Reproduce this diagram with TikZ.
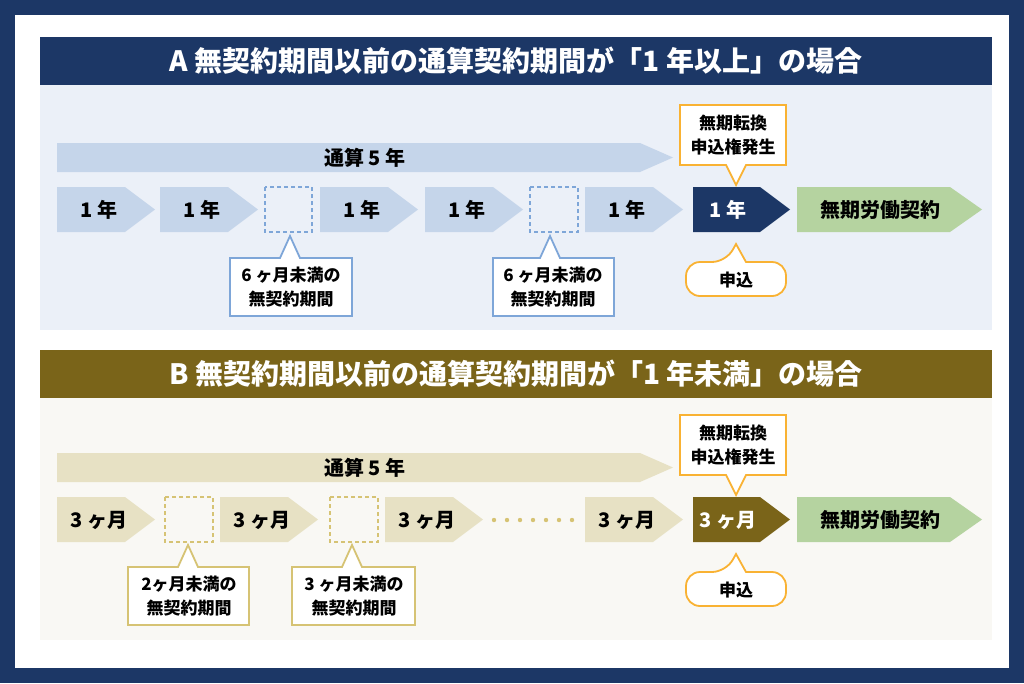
\documentclass[tikz,border=0pt]{standalone}
\usepackage{fontspec}
\setmainfont{Noto Sans CJK JP}
\definecolor{navy}{HTML}{1C3766}
\definecolor{olive}{HTML}{7A6419}
\definecolor{bgA}{HTML}{EBF0F8}
\definecolor{bgB}{HTML}{F9F8F4}
\definecolor{ltA}{HTML}{C5D5EA}
\definecolor{ltB}{HTML}{E7E1C4}
\definecolor{dashA}{HTML}{7EA6D8}
\definecolor{dashB}{HTML}{D6C374}
\definecolor{grn}{HTML}{B5D3A0}
\definecolor{org}{HTML}{F9B233}
\newcommand{\chev}[6]{\fill[#6] (#1,#4) -- (#3,#4) -- (#2,{(#4+#5)/2}) -- (#3,#5) -- (#1,#5) -- cycle;}
\tikzset{t/.style={font=\bfseries\fontsize{20}{22}\selectfont, text=black, inner sep=0pt},
 ct/.style={font=\bfseries\fontsize{17}{24}\selectfont, align=center, inner sep=0pt},
 hd/.style={font=\bfseries\fontsize{28}{30}\selectfont, text=white, inner sep=0pt}}
\newcommand{\callout}[8]{%
 \draw[#7, line width=1.8pt, fill=white] (#1,#2) -- ({#5-10},#2) -- (#5,#6) -- ({#5+10},#2) -- (#3,#2) -- (#3,#4) -- (#1,#4) -- cycle;}
\newcommand{\calloutD}[8]{%
 \draw[#7, line width=1.8pt, fill=white] (#1,#2) -- (#3,#2) -- (#3,#4) -- ({#5+10},#4) -- (#5,#6) -- ({#5-10},#4) -- (#1,#4) -- cycle;}
\begin{document}
\begin{tikzpicture}[x=1pt,y=-1pt]
\fill[navy] (0,0) rectangle (1024,683);
\fill[white] (15,15) rectangle (1009,668);
% ---------- A
\fill[navy] (40,37) rectangle (992,85);
\node[hd] (hA) at (516,61) {A 無契約期間以前の通算契約期間が「1 年以上」の場合};
\fill[bgA] (40,85) rectangle (992,330);
\chev{57}{673}{640}{143}{172}{ltA}
\node[t] (tA) at (365,158) {通算 5 年};
\foreach \a/\n in {57/a1,160/a2,320/a3,425/a4,585/a5}{
 \chev{\a}{\a+98}{\a+68}{187}{232}{ltA}
 \node[t] (\n) at (\a+42,210) {1 年};}
\draw[dashA, line width=1.5pt, dash pattern=on 4pt off 3pt] (265,187) rectangle (312,232);
\draw[dashA, line width=1.5pt, dash pattern=on 4pt off 3pt] (530,187) rectangle (578,232);
\chev{693}{790}{760}{187}{232}{navy}
\node[t, text=white] (a6) at (728,210) {1 年};
\chev{797}{982}{950}{187}{232}{grn}
\node[t] (a7) at (880,210) {無期労働契約};
\callout{230}{258}{352}{316}{290}{236}{dashA}{}
\node[ct] (cA1) at (291,287) {6 ヶ月未満の\\無契約期間};
\callout{493}{258}{614}{316}{550}{236}{dashA}{}
\node[ct] (cA2) at (553,287) {6 ヶ月未満の\\無契約期間};
\calloutD{680}{105}{786}{165}{736}{185}{org}{}
\node[ct] (oA) at (733,135) {無期転換\\申込権発生};
\draw[org, line width=1.8pt, fill=white, rounded corners=14pt] (686,262) -- (726,262) [sharp corners] -- (736,244) -- (746,262) [rounded corners=14pt] -- (786,262) -- (786,296) -- (686,296) -- cycle;
\node[ct] (mA) at (736,280) {申込};
% ---------- B
\fill[olive] (40,350) rectangle (992,398);
\node[hd] (hB) at (516,374) {B 無契約期間以前の通算契約期間が「1 年未満」の場合};
\fill[bgB] (40,398) rectangle (992,640);
\chev{57}{673}{640}{453}{482}{ltB}
\node[t] (tB) at (365,468) {通算 5 年};
\foreach \a/\n in {57/b1,220/b2,385/b3,585/b5}{
 \chev{\a}{\a+98}{\a+68}{497}{542}{ltB}
 \node[t] (\n) at (\a+42,520) {3 ヶ月};}
\draw[dashB, line width=1.5pt, dash pattern=on 4pt off 3pt] (165,497) rectangle (213,542);
\draw[dashB, line width=1.5pt, dash pattern=on 4pt off 3pt] (330,497) rectangle (378,542);
\foreach \i in {0,...,6} \fill[dashB] (494+\i*13,520) circle (2.2);
\chev{693}{790}{760}{497}{542}{olive}
\node[t, text=white] (b6) at (728,520) {3 ヶ月};
\chev{797}{982}{950}{497}{542}{grn}
\node[t] (b7) at (880,520) {無期労働契約};
\callout{128}{567}{249}{625}{188}{545}{dashB}{}
\node[ct] (cB1) at (189,596) {2ヶ月未満の\\無契約期間};
\callout{292}{567}{415}{625}{352}{545}{dashB}{}
\node[ct] (cB2) at (354,596) {3 ヶ月未満の\\無契約期間};
\calloutD{680}{415}{786}{475}{736}{495}{org}{}
\node[ct] (oB) at (733,445) {無期転換\\申込権発生};
\draw[org, line width=1.8pt, fill=white, rounded corners=14pt] (686,572) -- (726,572) [sharp corners] -- (736,554) -- (746,572) [rounded corners=14pt] -- (786,572) -- (786,606) -- (686,606) -- cycle;
\node[ct] (mB) at (736,590) {申込};
\end{tikzpicture}
\end{document}
